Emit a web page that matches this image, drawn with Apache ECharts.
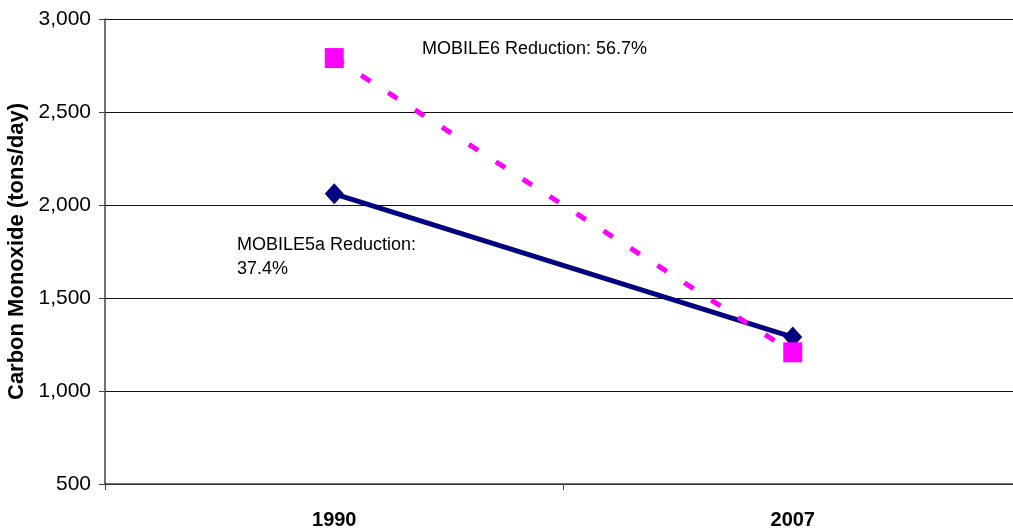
<!DOCTYPE html>
<html>
<head>
<meta charset="utf-8">
<script src="https://cdn.jsdelivr.net/npm/echarts@6/dist/echarts.min.js"></script>
<style>html,body{margin:0;padding:0;background:#fff;}#c{width:1013px;height:529px;}</style>
</head>
<body>
<div id="c"></div>
<script>
const years = ['1990', '2007'];
const mobile5a = [2060, 1290];
const mobile6 = [2790, 1208];
const yTicks = [500, 1000, 1500, 2000, 2500, 3000];
const notes = ['MOBILE6 Reduction: 56.7%', 'MOBILE5a Reduction:\n37.4%'];

const chart = echarts.init(document.getElementById('c'), null, {renderer: 'canvas'});
const F = 'Liberation Sans, Arial, sans-serif';
chart.setOption({
  animation: false,
  backgroundColor: '#fff',
  grid: {left: 105, top: 19, width: 917, height: 465, containLabel: false, outerBoundsMode: 'none'},
  xAxis: {
    type: 'category',
    data: years,
    boundaryGap: true,
    axisLine: {lineStyle: {color: '#444', width: 1.5}},
    axisTick: {show: true, length: 6, lineStyle: {color: '#444'}},
    axisLabel: {color: '#000', fontFamily: F, fontWeight: 'bold', fontSize: 20, margin: 26},
    splitLine: {show: false}
  },
  yAxis: {
    type: 'value',
    min: yTicks[0],
    max: yTicks[yTicks.length - 1],
    interval: 500,
    name: 'Carbon Monoxide (tons/day)',
    nameLocation: 'middle',
    nameGap: 73,
    nameTextStyle: {color: '#000', fontFamily: F, fontWeight: 'bold', fontSize: 22},
    axisLine: {show: true, lineStyle: {color: '#444', width: 1.5}},
    axisTick: {show: true, length: 6, lineStyle: {color: '#444'}},
    axisLabel: {color: '#000', fontFamily: F, fontSize: 21, margin: 14,
      formatter: v => v.toLocaleString('en-US')},
    splitLine: {show: true, lineStyle: {color: '#111', width: 1.2}}
  },
  series: [
    {
      name: 'MOBILE5a', type: 'line', data: mobile5a,
      symbol: 'diamond', symbolSize: [19, 21],
      lineStyle: {color: '#000080', width: 5},
      itemStyle: {color: '#000080'}
    },
    {
      name: 'MOBILE6', type: 'line', data: mobile6,
      symbol: 'rect', symbolSize: [19, 20],
      lineStyle: {color: '#ff00ff', width: 5, type: [11, 21], cap: 'butt'},
      itemStyle: {color: '#ff00ff'}
    }
  ],
  graphic: [
    {type: 'text', left: 422, top: 40, style: {text: notes[0], fill: '#000', font: '18px ' + F}},
    {type: 'text', left: 237, top: 233, style: {text: notes[1], fill: '#000', font: '18px ' + F, lineHeight: 24}}
  ]
});
</script>
</body>
</html>
